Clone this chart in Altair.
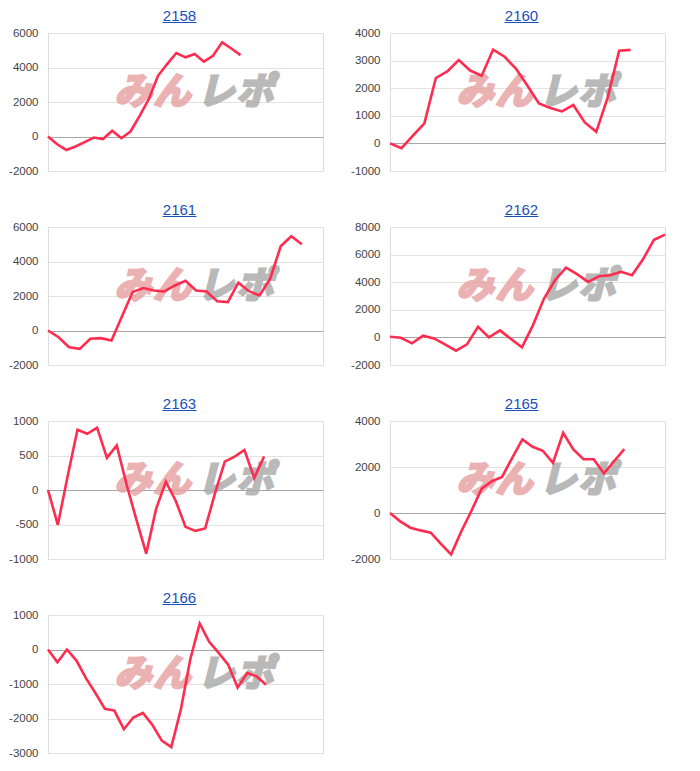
import altair as alt
import pandas as pd

RED = "#fe2d4f"
BLUE = "#1a4fb8"
FONT = "Liberation Sans"

names = ["2158", "2160", "2161", "2162", "2163", "2165", "2166"]

v2158 = [0, -450, -780, -580, -330, -60, -150, 330, -100, 290, 1200, 2170,
         3520, 4200, 4840, 4590, 4780, 4340, 4680, 5460, 5100, 4720]
v2160 = [0, -170, 280, 725, 2370, 2610, 3020, 2640, 2450, 3400, 3140, 2700,
         2090, 1450, 1280, 1160, 1390, 760, 420, 1670, 3360, 3390]
v2161 = [0, -390, -970, -1065, -480, -445, -580, 830, 2230, 2460, 2320, 2265,
         2610, 2885, 2320, 2265, 1690, 1650, 2770, 2280, 2030, 2990, 4880,
         5460, 4995]
v2162 = [50, -25, -430, 120, -70, -505, -960, -505, 770, 0, 505, -120, -720,
         890, 2820, 4140, 5060, 4580, 4020, 4430, 4500, 4750, 4500, 5660,
         7080, 7450]
v2163 = [0, -505, 200, 874, 815, 903, 466, 646, 80, -430, -922, -277, 121,
         -155, -534, -592, -558, -50, 410, 485, 580, 175, 485]
v2165 = [0, -364, -640, -756, -858, -1338, -1804, -800, 100, 1060, 1380, 1570,
         2400, 3200, 2880, 2705, 2180, 3490, 2760, 2340, 2340, 1720, 2250, 2780]
v2166 = [0, -370, 0, -320, -830, -1260, -1720, -1770, -2310, -1970, -1840,
         -2180, -2640, -2830, -1750, -290, 750, 225, -100, -440, -1100, -680,
         -780, -1020]

series = [v2158, v2160, v2161, v2162, v2163, v2165, v2166]
# number of day slots on each chart's x axis
slots = [31, 25, 27, 26, 29, 28, 30]
# y axis: min, max, step
ymins = [-2000, -1000, -2000, -2000, -1000, -2000, -3000]
ymaxs = [6000, 4000, 6000, 8000, 1000, 4000, 1000]
steps = [2000, 1000, 2000, 2000, 500, 2000, 1000]

W, H = 275, 138


def logo_char(ch, xpos, color):
    return alt.Chart(pd.DataFrame({"t": [ch]})).mark_text(
        font="Noto Sans CJK JP", fontSize=37, fontWeight="bold",
        fontStyle="italic", color=color, stroke=color, strokeWidth=2.8,
        opacity=0.8, align="center", baseline="middle"
    ).encode(text="t:N", x=alt.value(xpos), y=alt.value(60))


def panel(name, vals, nslots, ymin, ymax, step):
    df = pd.DataFrame({"x": list(range(len(vals))), "v": vals})
    xs = alt.Scale(domain=[0, nslots - 1], nice=False, zero=False)
    ys = alt.Scale(domain=[ymin, ymax], nice=False, zero=False)
    ticks = list(range(ymin, ymax + 1, step))
    yaxis = alt.Axis(
        values=ticks, labelExpr="'' + datum.value", ticks=False,
        labelPadding=10, labelFont=FONT, labelFontSize=11.5,
        labelColor="#444444", labelOverlap=False, labelBound=False,
        gridColor={"condition": {"test": "datum.value === 0",
                                 "value": "#a6a6a6"},
                   "value": "#e2e2e2"},
        domainColor="#dddddd", minExtent=39, maxExtent=39)
    line = alt.Chart(df).mark_line(color=RED, strokeWidth=2.6).encode(
        x=alt.X("x:Q", scale=xs, axis=None),
        y=alt.Y("v:Q", scale=ys, title=None, axis=yaxis),
    )
    title = alt.Chart(pd.DataFrame({"name": [name]})).mark_text(
        font=FONT, fontSize=15, color=BLUE, align="center",
        baseline="alphabetic"
    ).encode(text="name:N", x=alt.value(131.5), y=alt.value(-12.5))
    underline = alt.Chart(pd.DataFrame({"name": [name]})).mark_rule(
        color=BLUE, strokeWidth=1).encode(
        x=alt.value(114.5), x2=alt.value(148.5), y=alt.value(-10.5))
    logo = [
        logo_char("み", 85, "#e6a0a0"),
        logo_char("ん", 124, "#e6a0a0"),
        logo_char("レ", 168, "#a8a8a8"),
        logo_char("ポ", 207, "#a8a8a8"),
    ]
    return alt.layer(*logo, line, title, underline).properties(
        width=W, height=H)


panels = [panel(n, s, k, a, b, c) for n, s, k, a, b, c in
          zip(names, series, slots, ymins, ymaxs, steps)]

rows = [
    alt.hconcat(panels[0], panels[1], spacing=26),
    alt.hconcat(panels[2], panels[3], spacing=26),
    alt.hconcat(panels[4], panels[5], spacing=26),
    alt.hconcat(panels[6], spacing=26),
]

chart = alt.vconcat(*rows, spacing=25).properties(
    padding={"left": 0, "top": 0, "right": 5, "bottom": 5}
).configure_view(strokeWidth=0).configure(background="white")

chart.save("out.html", embed_options={"renderer": "svg", "actions": False})
